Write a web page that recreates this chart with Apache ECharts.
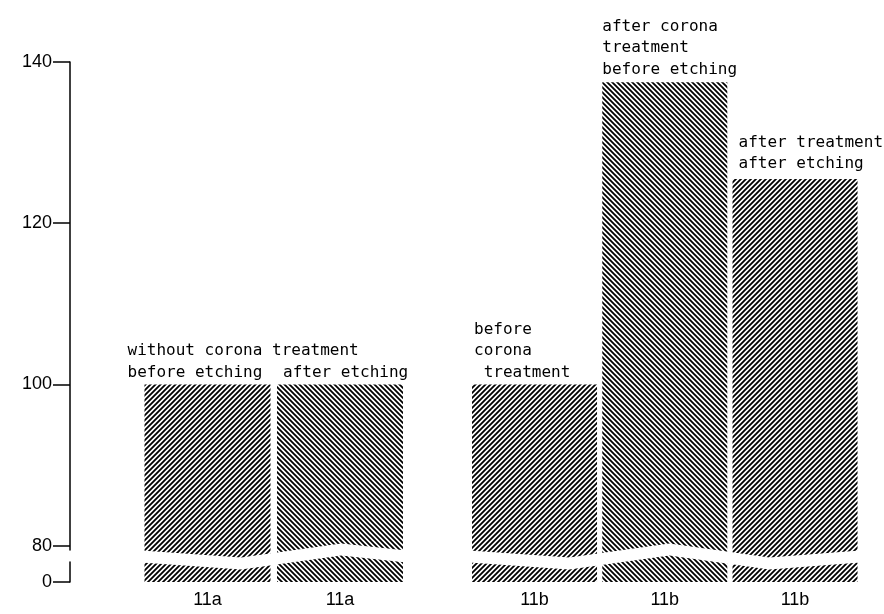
<!DOCTYPE html>
<html><head><meta charset="utf-8">
<script src="https://cdn.jsdelivr.net/npm/echarts@6/dist/echarts.min.js"></script>
<style>html,body{margin:0;padding:0;background:#fff}#c{width:884px;height:614px}</style>
</head><body><div id="c"></div>
<script>
// ---- data ----
const yTickValues = [0, 80, 100, 120, 140];
const catsA = ['11a', '11a'];
const valsA = [100, 100];
const notesA = ['without corona treatment\nbefore etching', 'after etching'];
const catsB = ['11b', '11b', '11b'];
const valsB = [100, 137.5, 125.5];
const notesB = ['before\ncorona\n treatment', 'after corona\ntreatment\nbefore etching', 'after treatment\nafter etching'];
const hatchA = ['/', '\\'];
const hatchB = ['/', '\\', '/'];

// ---- style ----
const noteOffsetA = [[-17, -1], [6, -1]];
const noteOffsetB = [[2, -1], [0, -2], [6, -4]];

function hatch(dir) {
  const s = 5;
  const c = document.createElement('canvas');
  c.width = s; c.height = s;
  const g = c.getContext('2d');
  g.fillStyle = '#fff'; g.fillRect(0, 0, s, s);
  g.strokeStyle = '#000'; g.lineWidth = 1.8;
  g.beginPath();
  if (dir === '/') {
    g.moveTo(-1, s + 1); g.lineTo(s + 1, -1);
    g.moveTo(-1, 1); g.lineTo(1, -1);
    g.moveTo(s - 1, s + 1); g.lineTo(s + 1, s - 1);
  } else {
    g.moveTo(-1, -1); g.lineTo(s + 1, s + 1);
    g.moveTo(s - 1, -1); g.lineTo(s + 1, 1);
    g.moveTo(-1, s - 1); g.lineTo(1, s + 1);
  }
  g.stroke();
  return { image: c, repeat: 'repeat' };
}

const noteStyle = {
  fontFamily: 'DejaVu Sans Mono', fontSize: 16, color: '#000',
  lineHeight: 21.5, align: 'left', verticalAlign: 'bottom'
};

function makeData(vals, notes, hatches, offs) {
  return vals.map((v, i) => ({
    value: v,
    itemStyle: { color: hatch(hatches[i]) },
    label: Object.assign({ show: true, formatter: notes[i], position: offs[i] }, noteStyle)
  }));
}

const breaks = [{ start: 2.5, end: 79.5, gap: 1.5 }];
const breakArea = {
  show: true,
  itemStyle: { color: '#fff', borderColor: '#fff', borderWidth: 0, opacity: 1 },
  zigzagAmplitude: 7, zigzagMinSpan: 100, zigzagMaxSpan: 100, zigzagZ: 200,
  expandOnClick: false
};

const yBase = {
  type: 'value', min: 0, max: 140, interval: 20,
  breaks: breaks, breakArea: breakArea,
  splitLine: { show: false }
};

const xBase = {
  type: 'category', dedplication: false,
  axisLine: { show: false }, axisTick: { show: false },
  axisLabel: { fontFamily: 'Liberation Sans', fontSize: 18, color: '#000', margin: 9 }
};

const chart = echarts.init(document.getElementById('c'), null, { renderer: 'canvas' });
chart.setOption({
  animation: false,
  backgroundColor: '#fff',
  grid: [
    { left: 141.25, width: 265, top: 62, bottom: 32 },
    { left: 469.4, width: 390.75, top: 62, bottom: 32 }
  ],
  xAxis: [
    Object.assign({ gridIndex: 0, data: catsA }, xBase),
    Object.assign({ gridIndex: 1, data: catsB }, xBase)
  ],
  yAxis: [
    Object.assign({
      gridIndex: 0, offset: 71.25,
      axisLine: { show: true, lineStyle: { color: '#000', width: 1.5 } },
      axisTick: { show: true, length: 17, customValues: yTickValues, lineStyle: { color: '#000', width: 1.5 } },
      axisLabel: {
        margin: 18, fontFamily: 'Liberation Sans', fontSize: 18, color: '#000',
        customValues: yTickValues,
        formatter: v => (yTickValues.indexOf(v) >= 0 ? String(v) : '')
      }
    }, yBase),
    Object.assign({
      gridIndex: 1,
      axisLine: { show: false }, axisTick: { show: false }, axisLabel: { show: false }
    }, yBase)
  ],
  series: [
    { type: 'bar', xAxisIndex: 0, yAxisIndex: 0, barWidth: 126,
      data: makeData(valsA, notesA, hatchA, noteOffsetA) },
    { type: 'bar', xAxisIndex: 1, yAxisIndex: 1, barWidth: 125,
      data: makeData(valsB, notesB, hatchB, noteOffsetB) }
  ]
});
</script></body></html>
